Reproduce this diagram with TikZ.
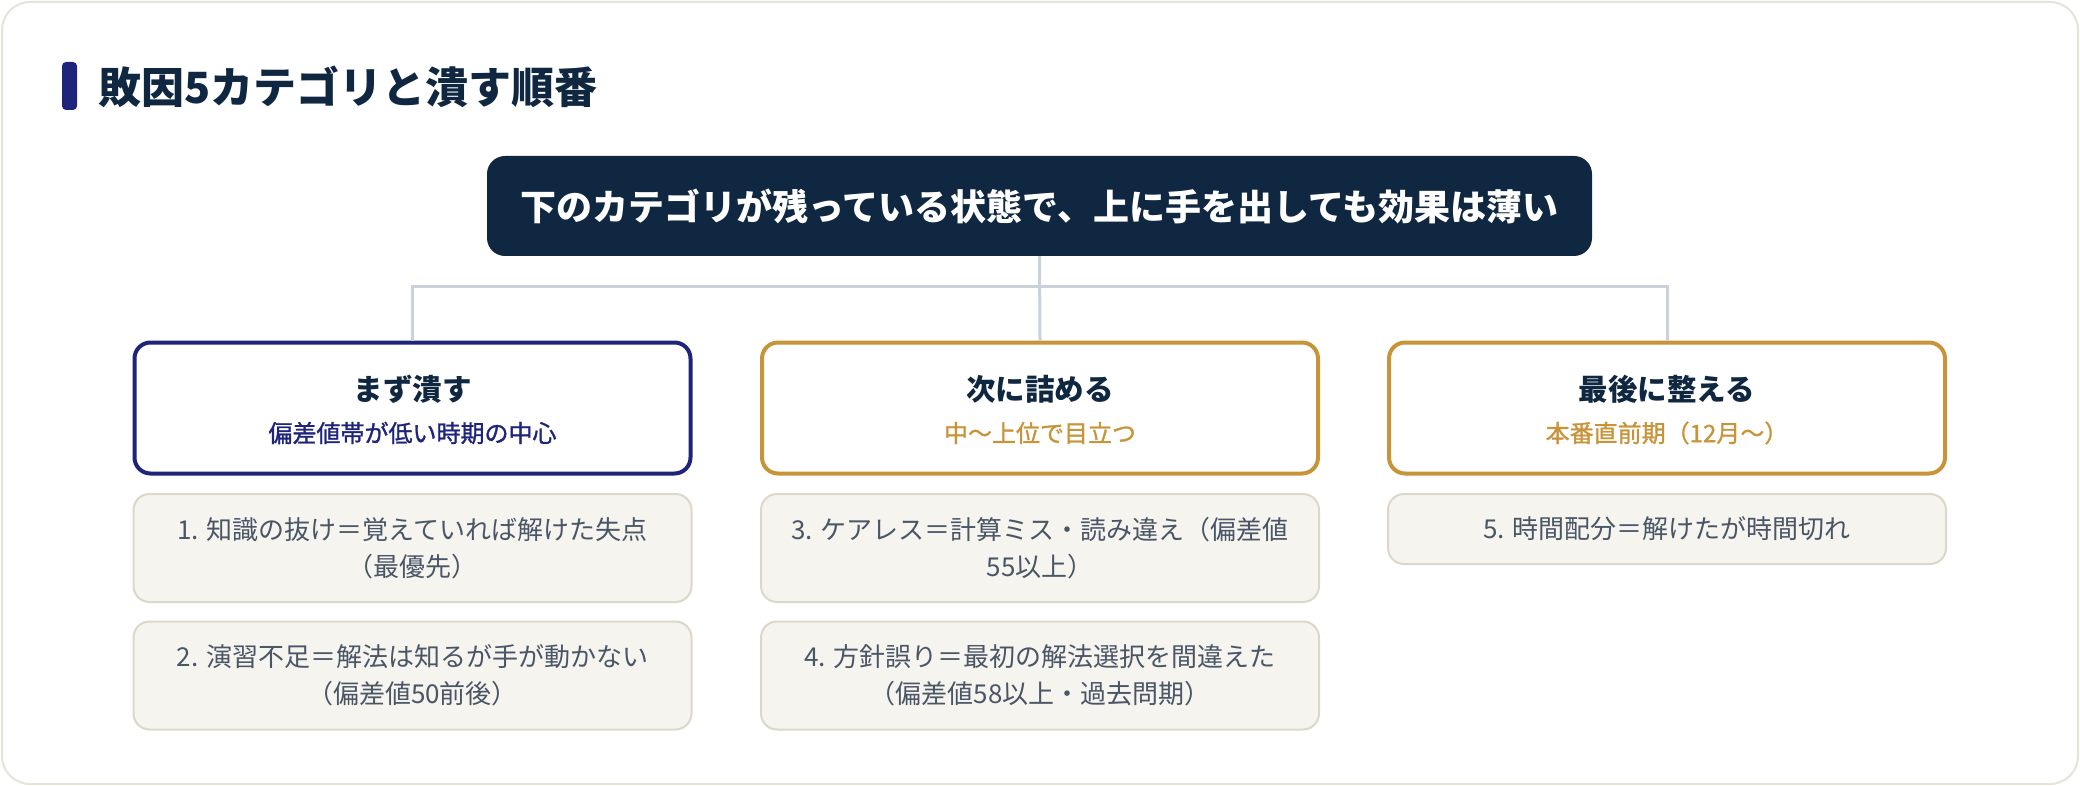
\documentclass[tikz,border=0pt]{standalone}
\usepackage{fontspec}
\setmainfont{Noto Sans CJK JP}
\definecolor{navy}{HTML}{0F2740}
\definecolor{indigo}{HTML}{1E2479}
\definecolor{gold}{HTML}{C8943A}
\definecolor{itemfill}{HTML}{F5F4EF}
\definecolor{itemborder}{HTML}{DCD8C8}
\definecolor{itemtext}{HTML}{4A5565}
\definecolor{conn}{HTML}{CBD1DB}
\definecolor{cardborder}{HTML}{E6E3D8}
\tikzset{
  catbox/.style={draw, line width=4pt, rounded corners=16pt, fill=white, minimum width=556pt, minimum height=131pt, inner sep=0pt},
  itembox/.style={draw=itemborder, line width=2pt, rounded corners=16pt, fill=itemfill, minimum width=558pt, inner sep=0pt, align=center, text=itemtext, font=\fontsize{26pt}{37pt}\selectfont},
  cattitle/.style={inner sep=0pt, text=navy, font=\fontsize{29.5pt}{34pt}\selectfont\bfseries},
  catsub/.style={inner sep=0pt, font=\fontsize{24pt}{28pt}\selectfont\addfontfeature{FakeBold=1.2}},
  connline/.style={draw=conn, line width=3pt}
}
\begin{document}
\begin{tikzpicture}[x=1pt,y=-1pt]
\useasboundingbox (0,0) rectangle (2080,786);
\fill[white] (0,0) rectangle (2080,786);
\draw[cardborder, line width=2pt, rounded corners=28pt] (2,2) rectangle (2078,784);
% title
\fill[indigo, rounded corners=4pt] (62,62) rectangle (77,110);
\node[anchor=west, inner sep=0pt, text=navy, font=\fontsize{43pt}{50pt}\selectfont\bfseries] (title) at (98,87) {敗因5カテゴリと潰す順番};
% header
\node[fill=navy, rounded corners=18pt, minimum width=1105pt, minimum height=100pt, inner sep=0pt, text=white, font=\fontsize{36pt}{40pt}\selectfont\bfseries] (hdr) at (1039.5,206) {下のカテゴリが残っている状態で、上に手を出しても効果は薄い};
% categories
\node[catbox, draw=indigo] (c1) at (412.5,408) {};
\node[catbox, draw=gold] (c2) at (1040,408) {};
\node[catbox, draw=gold] (c3) at (1667,408) {};
\node[cattitle] (c1t) at (412.5,389) {まず潰す};
\node[catsub, text=indigo] (c1s) at (412.5,433) {偏差値帯が低い時期の中心};
\node[cattitle] (c2t) at (1040,389) {次に詰める};
\node[catsub, text=gold] (c2s) at (1040,433) {中〜上位で目立つ};
\node[cattitle] (c3t) at (1667,389) {最後に整える};
\node[catsub, text=gold] (c3s) at (1667,433) {本番直前期（12月〜）};
% connectors
\coordinate (bus) at (1040,287);
\draw[connline] (hdr.south) -- (c2.north);
\draw[connline] (c1.north) |- (bus) -| (c3.north);
% items
\node[itembox, minimum height=108pt] (i1) at (412.5,548) {1. 知識の抜け＝覚えていれば解けた失点\\（最優先）};
\node[itembox, minimum height=108pt] (i2) at (412.5,675.5) {2. 演習不足＝解法は知るが手が動かない\\（偏差値50前後）};
\node[itembox, minimum height=108pt] (i3) at (1040,548) {3. ケアレス＝計算ミス・読み違え（偏差値\\55以上）};
\node[itembox, minimum height=108pt] (i4) at (1040,675.5) {4. 方針誤り＝最初の解法選択を間違えた\\（偏差値58以上・過去問期）};
\node[itembox, minimum height=70pt] (i5) at (1667,529) {5. 時間配分＝解けたが時間切れ};
\end{tikzpicture}
\end{document}
